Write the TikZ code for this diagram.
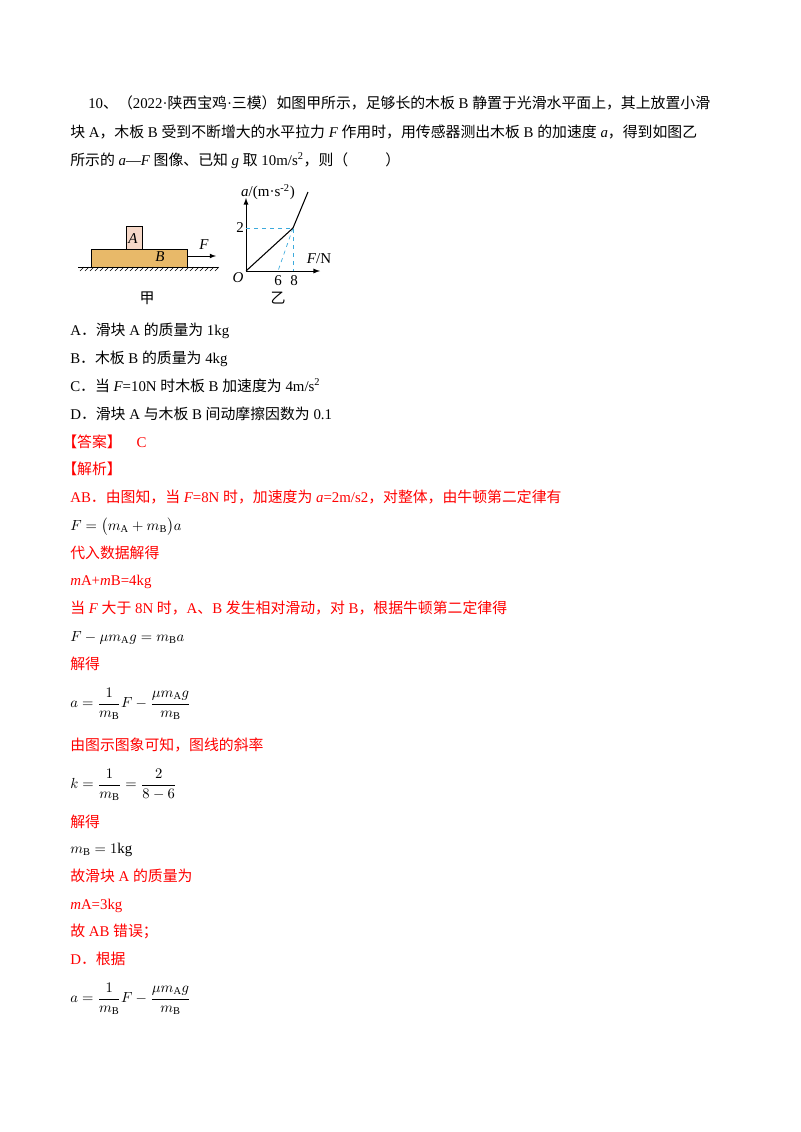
\documentclass[tikz,border=0pt]{standalone}
\usepackage{fontspec}
\usepackage{amsmath}
\setmainfont{Liberation Serif}
\newfontfamily\cjk{Noto Sans CJK SC}
\newXeTeXintercharclass\cjkcls
\makeatletter
\def\setcls#1#2{\count255=#1 \loop\XeTeXcharclass\count255=\cjkcls\ifnum\count255<#2 \advance\count255 1 \repeat}
\makeatother
\setcls{"4E00}{"9FFF}
\setcls{"3000}{"303F}
\setcls{"FF00}{"FFEF}
\XeTeXinterchartokenstate=1
\XeTeXinterchartoks 0 \cjkcls={\cjk}
\XeTeXinterchartoks 4095 \cjkcls={\cjk}
\XeTeXinterchartoks \cjkcls 0={\rmfamily}
\XeTeXinterchartoks \cjkcls 4095={\rmfamily}
\newcommand\iv[1]{{\rmfamily\itshape #1}}
\definecolor{rd}{RGB}{255,0,0}
\definecolor{boardB}{RGB}{232,185,105}
\definecolor{blockA}{RGB}{246,216,200}
\definecolor{dashblue}{RGB}{60,170,220}
\tikzset{ln/.style={anchor=base west,inner sep=0pt,font=\fontsize{11.15}{13}\selectfont},
 rl/.style={ln,text=rd},
 lab/.style={inner sep=0pt,font=\fontsize{11.25}{13}\selectfont}}
\begin{document}
\begin{tikzpicture}[x=0.75pt,y=-0.75pt]
\useasboundingbox[fill=white] (0,0) rectangle (800,1132);
\node[ln] (l1) at (88,108) {10、（2022·陕西宝鸡·三模）如图甲所示，足够长的木板 B 静置于光滑水平面上，其上放置小滑};
\node[ln] (l2) at (70,137) {块 A，木板 B 受到不断增大的水平拉力 \iv{F} 作用时，用传感器测出木板 B 的加速度 \iv{a}，得到如图乙};
\node[ln] (l3) at (70,165) {所示的 \iv{a}—\iv{F} 图像、已知 \iv{g} 取 10m/s\textsuperscript{2}，则（\hspace{2.5em}）};
% figure jia
\draw[fill=boardB,line width=0.5pt] (91,249) rectangle (187,267);
\draw[fill=blockA,line width=0.5pt] (126,226) rectangle (142,249);
\node[lab] (A) at (133,239) {\iv{A}};
\node[lab] (B) at (160,257) {\iv{B}};
\draw[line width=0.7pt] (78,267) -- (218,267);
\foreach \i in {0,...,27} \draw[line width=0.4pt] ({80+\i*5},271) -- ({84+\i*5},267);
\coordinate (fs) at (187,256); \coordinate (fe) at (216,256);
\draw[-latex,line width=0.6pt] (fs) -- (fe);
\node[lab] (F) at (204,245) {\iv{F}};
\node[lab] (jia) at (147,298) {甲};
% graph yi
\coordinate (O) at (246,271);
\coordinate (P) at (293,228);
\coordinate (Q) at (308,192);
\coordinate (x6) at (278,271);
\coordinate (x8) at (293,271);
\coordinate (y2) at (246,228);
\draw[-latex,line width=0.7pt] (O) -- (320,271);
\draw[-latex,line width=0.7pt] (O) -- (246,198);
\draw[dashblue,dashed,line width=0.5pt] (y2) -- (P) -- (x8);
\draw[dashblue,dashed,line width=0.5pt] (P) -- (x6);
\draw[line width=0.8pt] (O) -- (P) -- (Q);
\node[lab] (Ol) at (238,278) {\iv{O}};
\node[lab] (two) at (240,228) {2};
\node[lab] (six) at (278,281) {6};
\node[lab] (eight) at (294,281) {8};
\node[lab] (FN) at (319,259) {\iv{F}/N};
\node[lab] (ay) at (268,192) {\iv{a}/(m·s\textsuperscript{-2})};
\node[lab] (yi) at (278,298) {乙};
% options
\node[ln] (oA) at (70,335) {A．滑块 A 的质量为 1kg};
\node[ln] (oB) at (70,363) {B．木板 B 的质量为 4kg};
\node[ln] (oC) at (70,391) {C．当 \iv{F}=10N 时木板 B 加速度为 4m/s\textsuperscript{2}};
\node[ln] (oD) at (70,419) {D．滑块 A 与木板 B 间动摩擦因数为 0.1};
\node[rl] (ans) at (62,447) {【答案】\quad C};
\node[rl] (jx) at (62,474) {【解析】};
\node[rl] (r1) at (70,502) {AB．由图知，当 \iv{F}=8N 时，加速度为 \iv{a}=2m/s2，对整体，由牛顿第二定律有};
\node[ln] (e1) at (70,530) {$F=\bigl(m_{\mathrm A}+m_{\mathrm B}\bigr)a$};
\node[rl] (r2) at (70,558) {代入数据解得};
\node[rl] (r3) at (70,585) {\iv{m}A+\iv{m}B=4kg};
\node[rl] (r4) at (70,613) {当 \iv{F} 大于 8N 时，A、B 发生相对滑动，对 B，根据牛顿第二定律得};
\node[ln] (e2) at (70,641) {$F-\mu m_{\mathrm A}g=m_{\mathrm B}a$};
\node[rl] (r5) at (70,669) {解得};
\node[ln,anchor=west] (e3) at (70,704) {$a=\dfrac{1}{m_{\mathrm B}}F-\dfrac{\mu m_{\mathrm A}g}{m_{\mathrm B}}$};
\node[rl] (r6) at (70,750) {由图示图象可知，图线的斜率};
\node[ln,anchor=west] (e4) at (70,785) {$k=\dfrac{1}{m_{\mathrm B}}=\dfrac{2}{8-6}$};
\node[rl] (r7) at (70,827) {解得};
\node[ln] (e5) at (70,853) {$m_{\mathrm B}=1\mathrm{kg}$};
\node[rl] (r8) at (70,881) {故滑块 A 的质量为};
\node[rl] (r9) at (70,909) {\iv{m}A=3kg};
\node[rl] (r10) at (70,936) {故 AB 错误；};
\node[rl] (r11) at (70,964) {D．根据};
\node[ln,anchor=west] (e6) at (70,999) {$a=\dfrac{1}{m_{\mathrm B}}F-\dfrac{\mu m_{\mathrm A}g}{m_{\mathrm B}}$};
\end{tikzpicture}
\end{document}
